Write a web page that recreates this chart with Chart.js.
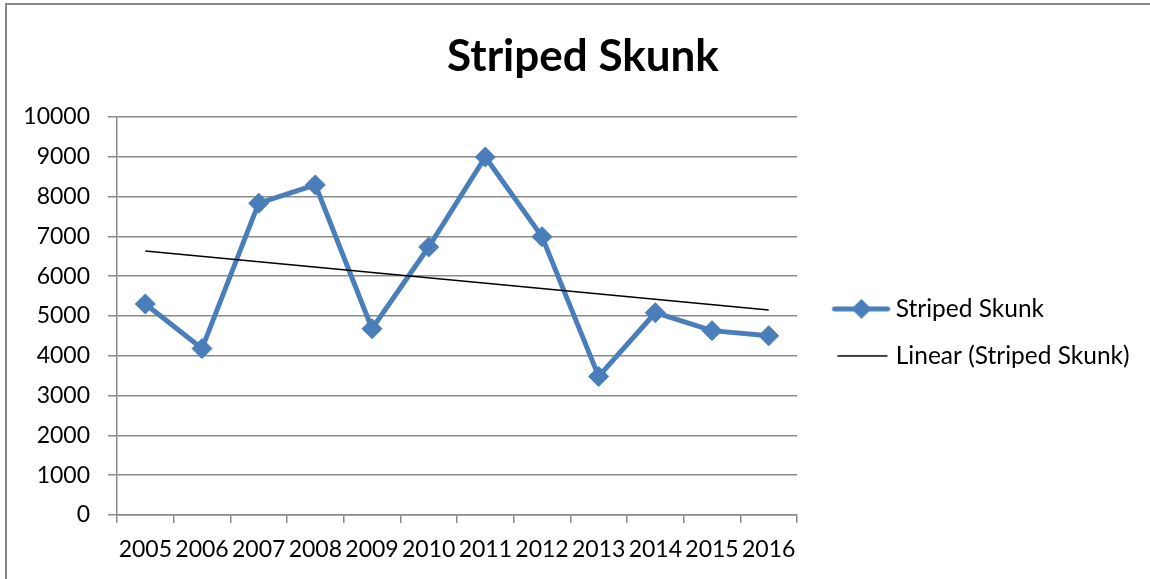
<!DOCTYPE html>
<html>
<head>
<meta charset="utf-8">
<script src="https://cdn.jsdelivr.net/npm/chart.js@4.4.1/dist/chart.umd.min.js"></script>
<style>
    html, body { margin: 0; padding: 0; background: #fff; overflow: hidden; }
    #wrap { position: relative; width: 1150px; height: 579px; }
    #frame { position: absolute; left: 5px; top: 3px; width: 1300px; height: 700px; border: 2px solid #868686; }
    #chart { position: absolute; left: 0; top: 0; }
</style>
</head>
<body>
<div id="wrap">
    <div id="frame"></div>
    <canvas id="chart" width="1150" height="579"></canvas>
</div>
<script>
// 数据
const years = ['2005', '2006', '2007', '2008', '2009', '2010', '2011', '2012', '2013', '2014', '2015', '2016'];
const skunkCounts = [5300, 4180, 7830, 8290, 4680, 6730, 8990, 6990, 3480, 5080, 4630, 4500];
// 趋势线两端
const trendValues = [6630, null, null, null, null, null, null, null, null, null, null, 5150];
const yTicks = [0, 1000, 2000, 3000, 4000, 5000, 6000, 7000, 8000, 9000, 10000];

// 布局
const PAD_LEFT = 20;
const PAD_RIGHT = 4;
const LEGEND_WIDTH = 353 - PAD_RIGHT;
const FONT = 'Lato';
const BLUE = '#4a7ebb';
const GRID = '#8a8a8a';

// 图例图标
function makeIcon(draw) {
    const c = document.createElement('canvas');
    c.width = 78;
    c.height = 26;
    draw(c.getContext('2d'));
    return c;
}

const skunkIcon = makeIcon(ctx => {
    ctx.strokeStyle = BLUE;
    ctx.lineWidth = 5;
    ctx.lineCap = 'round';
    ctx.beginPath();
    ctx.moveTo(22, 13);
    ctx.lineTo(75, 13);
    ctx.stroke();
    ctx.fillStyle = BLUE;
    ctx.beginPath();
    ctx.moveTo(49, 3);
    ctx.lineTo(59, 13);
    ctx.lineTo(49, 23);
    ctx.lineTo(39, 13);
    ctx.closePath();
    ctx.fill();
});

const trendIcon = makeIcon(ctx => {
    ctx.strokeStyle = '#000';
    ctx.lineWidth = 1.5;
    ctx.beginPath();
    ctx.moveTo(25, 13);
    ctx.lineTo(75, 13);
    ctx.stroke();
});

// 固定图例宽度
const legendWidthPlugin = {
    id: 'legendWidth',
    beforeLayout(chart) {
        const lg = chart.legend;
        if (lg && !lg._fixedFit) {
            const fit = lg.fit.bind(lg);
            lg.fit = function () {
                fit();
                this.width = LEGEND_WIDTH;
            };
            lg._fixedFit = true;
        }
    }
};

const ctx = document.getElementById('chart').getContext('2d');
new Chart(ctx, {
    type: 'line',
    data: {
        labels: years,
        datasets: [{
            label: 'Striped Skunk',
            data: skunkCounts,
            borderColor: BLUE,
            backgroundColor: BLUE,
            borderWidth: 5,
            pointStyle: 'rectRot',
            pointRadius: 10,
            pointBorderWidth: 1,
            pointBackgroundColor: BLUE,
            pointBorderColor: BLUE,
            tension: 0,
            order: 1
        }, {
            label: 'Linear (Striped Skunk)',
            data: trendValues,
            borderColor: '#000',
            borderWidth: 1.6,
            pointRadius: 0,
            spanGaps: true,
            tension: 0,
            order: 0
        }]
    },
    options: {
        responsive: false,
        animation: false,
        devicePixelRatio: 1,
        layout: {
            padding: { left: PAD_LEFT, right: PAD_RIGHT, top: 0, bottom: 0 }
        },
        plugins: {
            title: {
                display: true,
                text: 'Striped Skunk',
                color: '#000',
                font: { family: FONT, size: 44, weight: 'bold', lineHeight: 1.2 },
                padding: { top: 30, bottom: 34 }
            },
            legend: {
                position: 'right',
                fullSize: false,
                align: 'center',
                title: {
                    display: true,
                    text: ' ',
                    font: { size: 10, lineHeight: 1 },
                    padding: { top: 23, bottom: 0 }
                },
                labels: {
                    usePointStyle: true,
                    pointStyleWidth: 64,
                    padding: 22.5,
                    color: '#000',
                    font: { family: FONT, size: 24.5 },
                    generateLabels(chart) {
                        const items = Chart.defaults.plugins.legend.labels.generateLabels(chart);
                        items.sort((a, b) => a.datasetIndex - b.datasetIndex);
                        items.forEach(item => {
                            item.pointStyle = item.datasetIndex === 0 ? skunkIcon : trendIcon;
                        });
                        return items;
                    }
                }
            },
            tooltip: { enabled: false }
        },
        scales: {
            x: {
                offset: true,
                grid: {
                    display: true,
                    drawOnChartArea: false,
                    drawTicks: true,
                    tickLength: 8,
                    offset: true,
                    color: GRID,
                    lineWidth: 1.5
                },
                border: { color: GRID, width: 1.5 },
                ticks: {
                    color: '#000',
                    font: { family: FONT, size: 23 },
                    padding: 13,
                    maxRotation: 0,
                    autoSkip: false
                },
                afterFit(scale) {
                    scale.height = 64;
                }
            },
            y: {
                min: 0,
                max: 10000,
                afterBuildTicks(scale) {
                    scale.ticks = yTicks.map(v => ({ value: v }));
                },
                grid: {
                    color: GRID,
                    lineWidth: 1.5,
                    drawTicks: true,
                    tickLength: 9
                },
                border: { color: GRID, width: 1.5 },
                ticks: {
                    color: '#000',
                    font: { family: FONT, size: 23 },
                    padding: 18,
                    callback: value => String(value)
                },
                afterFit(scale) {
                    scale.width = 117 - PAD_LEFT;
                }
            }
        }
    },
    plugins: [legendWidthPlugin]
});
</script>
</body>
</html>
